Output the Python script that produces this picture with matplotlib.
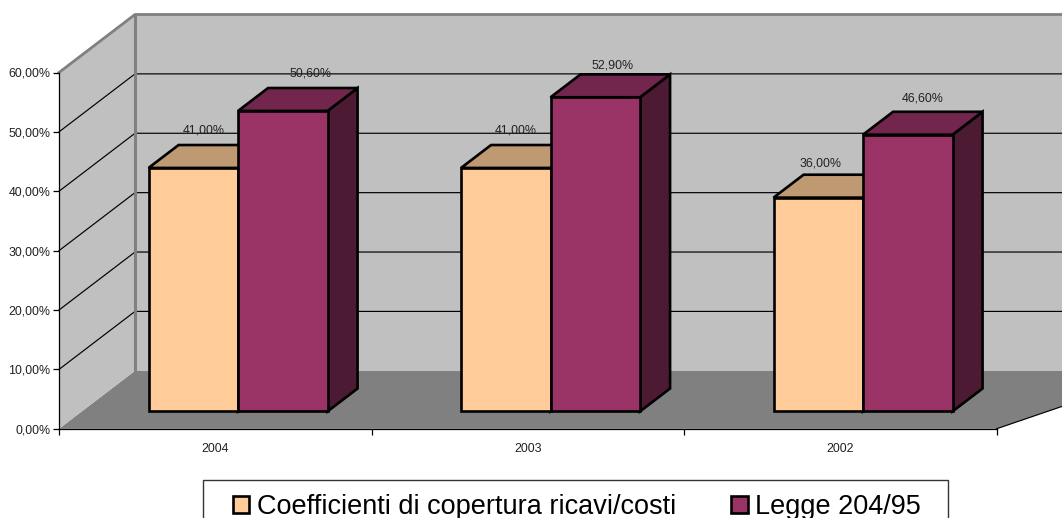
import matplotlib
matplotlib.use('Agg')
import matplotlib.pyplot as plt
from matplotlib.patches import Polygon, Patch, Rectangle

plt.rcParams['font.family'] = ['Liberation Sans', 'DejaVu Sans']

# Data
years = ['2004', '2003', '2002']
coefficienti = [41.0, 41.0, 36.0]
legge = [50.6, 52.9, 46.6]
y_ticks = [0, 10, 20, 30, 40, 50, 60]

# Series styles: front, top, side
series = [
    ('Coefficienti di copertura ricavi/costi', coefficienti, '#FFCC99', '#BF9972', '#80664D'),
    ('Legge 204/95', legge, '#993366', '#73264D', '#4D1A33'),
]

# Label nudges in points, the old chart placed them by hand
label_nudge = [[(7.5, 27), (20.2, 27)], [(7.5, 27), (12.7, 23)], [(1.5, 24.5), (10.7, 26)]]

W, H = 1062, 518
fig = plt.figure(figsize=(W / 100, H / 100), dpi=100)
left, right, bottom, top = 59, 996.5, 428.8, 72.5
ax = fig.add_axes([left / W, 1 - bottom / H, (right - left) / W, (bottom - top) / H])
ax.set_xlim(0, 3)
ax.set_ylim(0, 60)
ax.patch.set_visible(False)

# Depth of the fake 3d box, in data units
dx = 76 / ((right - left) / 3)
dy = 58 / ((bottom - top) / 60)


def proj(x, y, d):
    return (x + d * dx, y + d * dy)


def poly(points, face, edge='none', lw=0, z=1):
    ax.add_patch(Polygon(points, closed=True, facecolor=face, edgecolor=edge, linewidth=lw,
                         joinstyle='miter', clip_on=False, zorder=z))


# Walls and floor
xmax = 3.3
poly([proj(0, 0, 0), proj(0, 0, 1), proj(xmax, 0, 1), proj(3, 0, 0)], '#808080')
poly([proj(0, 0, 1), proj(xmax, 0, 1), proj(xmax, 60, 1), proj(0, 60, 1)], '#C0C0C0')
poly([proj(0, 0, 0), proj(0, 0, 1), proj(0, 60, 1), proj(0, 60, 0)], '#C0C0C0')

# Gridlines on side and back wall
for v in y_ticks[1:-1]:
    xs, ys = zip(proj(0, v, 0), proj(0, v, 1), proj(xmax, v, 1))
    ax.plot(xs, ys, color='black', lw=0.85, clip_on=False, zorder=1.2)
xs, ys = zip(proj(0, 60, 0), proj(0, 60, 1), proj(xmax, 60, 1))
ax.plot(xs, ys, color='#808080', lw=2, clip_on=False, zorder=1.3)
xs, ys = zip(proj(0, 0, 1), proj(0, 60, 1))
ax.plot(xs, ys, color='#808080', lw=2.2, clip_on=False, zorder=1.3)
xs, ys = zip(proj(3, 0, 0), proj(xmax, 0, 1))
ax.plot(xs, ys, color='black', lw=0.85, clip_on=False, zorder=1.2)

# Bars
bar_w = 89.5 / ((right - left) / 3)
gap = (1 - 2 * bar_w) / 2
d0, d1 = 0.30, 0.695
for i in range(len(years)):
    for j, (name, values, front, top_c, side) in enumerate(series):
        v = values[i]
        x0 = i + gap + j * bar_w
        x1 = x0 + bar_w
        z = 3 + i + j * 0.1
        poly([proj(x1, 0, d0), proj(x1, 0, d1), proj(x1, v, d1), proj(x1, v, d0)], side, 'black', 1.9, z)
        poly([proj(x0, v, d0), proj(x0, v, d1), proj(x1, v, d1), proj(x1, v, d0)], top_c, 'black', 1.9, z)
        poly([proj(x0, 0, d0), proj(x1, 0, d0), proj(x1, v, d0), proj(x0, v, d0)], front, 'black', 1.9, z)
        ax.annotate(f'{v:.2f}%'.replace('.', ','), proj((x0 + x1) / 2, v, d0),
                    xytext=label_nudge[i][j], textcoords='offset points',
                    ha='center', va='center', fontsize=8.9, color='#222222', zorder=10)

# Axes
for s in ['top', 'right']:
    ax.spines[s].set_visible(False)
for s in ['left', 'bottom']:
    ax.spines[s].set_linewidth(0.9)
ax.set_yticks(y_ticks)
ax.set_yticklabels([f'{v:.2f}%'.replace('.', ',') for v in y_ticks], fontsize=8.9, color='#222222')
ax.set_xticks([0, 1, 2, 3])
ax.set_xticklabels([])
ax.set_xticks([0.5, 1.5, 2.5], minor=True)
ax.set_xticklabels(years, minor=True, fontsize=8.9, color='#222222')
ax.tick_params(axis='both', which='major', length=4.5, width=0.9)
ax.tick_params(axis='y', pad=1.5)
ax.tick_params(axis='x', which='minor', length=0, pad=10)

# Legend, the box runs off the bottom of the picture like the original
fig.add_artist(Rectangle((203 / W, 1 - 530 / H), 745 / W, 50 / H, transform=fig.transFigure,
                         facecolor='white', edgecolor='#333333', linewidth=1, zorder=19))
handles = [Patch(facecolor=s[2], edgecolor='black', linewidth=1.9, label=s[0]) for s in series]
leg = fig.legend(handles=handles, ncols=2, loc='upper left',
                 bbox_to_anchor=(232.5 / W, 1 - 494 / H), bbox_transform=fig.transFigure,
                 fontsize=19.5, frameon=False,
                 handlelength=0.62, handleheight=0.62, handletextpad=0.27, columnspacing=2.03,
                 borderpad=0, borderaxespad=0)
leg.set_zorder(20)

fig.savefig('out.png', dpi=100)
